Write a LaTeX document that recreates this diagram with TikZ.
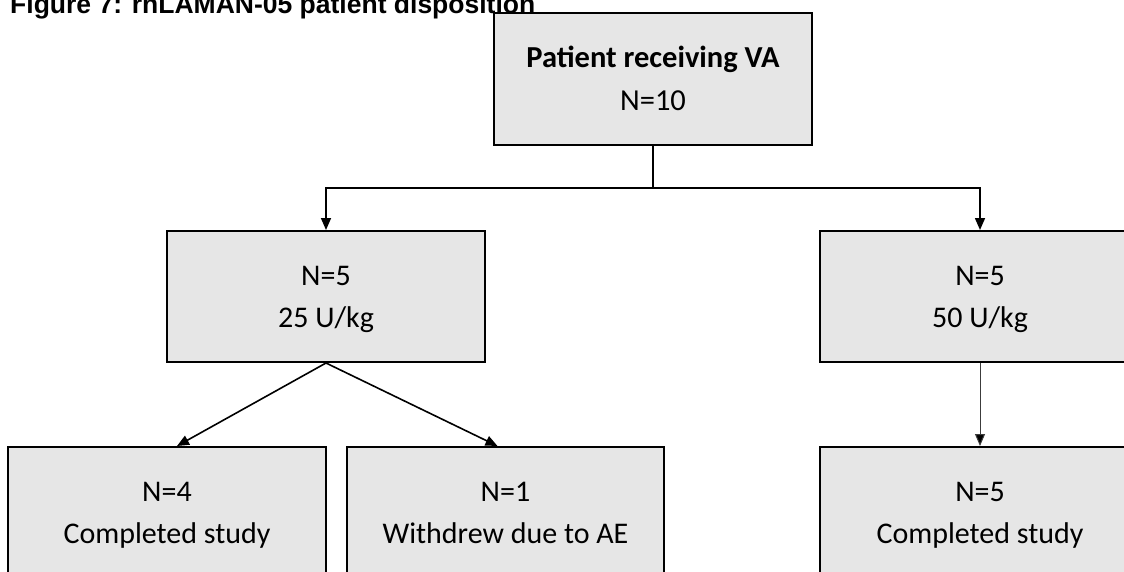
\documentclass[tikz,border=0pt]{standalone}
\usepackage{fontspec}
\setmainfont{Carlito}
\newfontfamily\titlefont{Liberation Sans}
\usetikzlibrary{arrows.meta}
\definecolor{boxfill}{RGB}{230,230,230}
\definecolor{thinline}{RGB}{60,60,60}
\tikzset{
  flowbox/.style={draw=black, line width=2pt, fill=boxfill, rectangle,
    minimum width=318pt, minimum height=131pt, inner sep=0pt, align=center,
    font=\fontsize{30}{42}\selectfont, text height=61pt, text depth=-1pt},
  conn/.style={line width=1.6pt, draw=black},
  arr/.style={conn, -{Triangle[length=12pt,width=10pt]}},
  thinarr/.style={line width=1pt, draw=thinline, -{Triangle[length=12pt,width=10pt,fill=black]}},
}
\begin{document}
\begin{tikzpicture}[x=1pt,y=-1pt]
\useasboundingbox (0,0) rectangle (1124,571);
\clip (0,0) rectangle (1124,571);
\node[anchor=base west, font=\titlefont\bfseries\fontsize{26.5}{30}\selectfont, inner sep=0pt] (title) at (10,13) {Figure 7: rhLAMAN-05 patient disposition};

\node[flowbox, minimum height=132pt, text height=62pt, text depth=-3pt, font=\bfseries\fontsize{30.5}{43}\selectfont] (top) at (653,79) {Patient receiving VA\\\mdseries N=10};
\node[flowbox] (m1) at (326,296.5) {N=5\\25 U/kg};
\node[flowbox, minimum width=320pt] (m2) at (980,296.5) {N=5\\50 U/kg};
\node[flowbox] (b1) at (167,512.5) {N=4\\Completed study};
\node[flowbox, minimum width=317pt] (b2) at (505.5,512.5) {N=1\\Withdrew due to AE};
\node[flowbox, minimum width=320pt] (b3) at (980,512.5) {N=5\\Completed study};

\coordinate (hub) at (653,188);
\draw[conn] (top.south) -- (hub);
\draw[arr] (hub) -| (m1.north);
\draw[arr] (hub) -| (m2.north);
\draw[arr] (m1.south) -- ([xshift=10pt]b1.north);
\draw[arr] (m1.south) -- ([xshift=-8pt]b2.north);
\draw[thinarr] (m2.south) -- (b3.north);
\end{tikzpicture}
\end{document}
